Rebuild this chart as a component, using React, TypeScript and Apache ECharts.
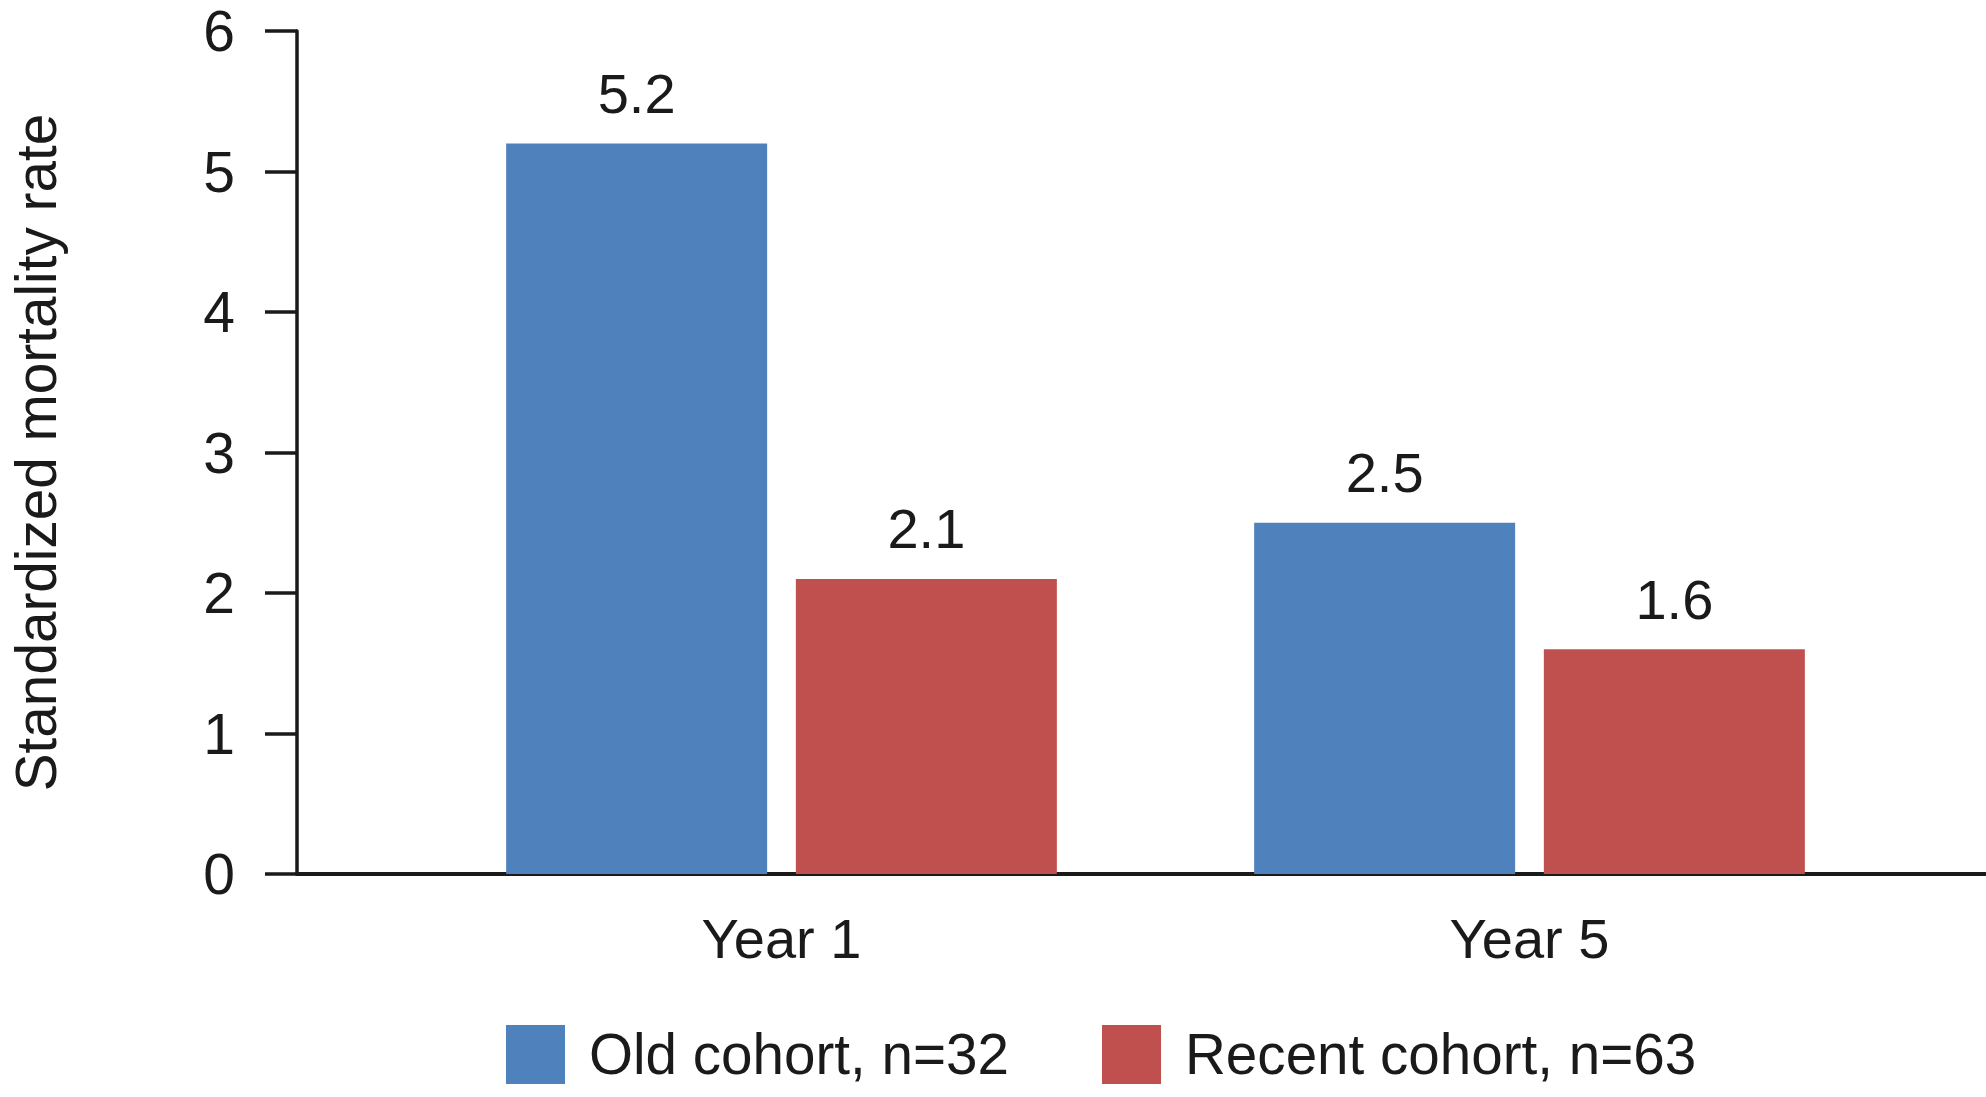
import React, { useEffect, useRef } from "react";
import * as echarts from "echarts";

const categories = ["Year 1", "Year 5"];
const seriesNames = ["Old cohort, n=32", "Recent cohort, n=63"];
const oldCohort = [5.2, 2.5];
const recentCohort = [2.1, 1.6];
const yTitle = "Standardized mortality rate";

const FONT = "'Liberation Sans', Arial, Helvetica, sans-serif";
const INK = "#1a1a1a";
const BLUE = "#4F81BD";
const RED = "#C0504D";

export default function App() {
  const ref = useRef<HTMLDivElement>(null);
  useEffect(() => {
    if (!ref.current) return;
    const chart = echarts.init(ref.current, undefined, { renderer: "svg" });
    const label = {
      show: true,
      position: "top",
      distance: 22,
      fontSize: 56,
      fontFamily: FONT,
      color: INK,
      formatter: (p: any) => Number(p.value).toFixed(1),
    };
    chart.setOption({
      animation: false,
      backgroundColor: "#ffffff",
      textStyle: { fontFamily: FONT, color: INK },
      grid: [
        { left: 293, right: 0, top: 31, bottom: 223 },
        { left: 407.5, right: 82.5, top: 31, bottom: 223 },
      ],
      xAxis: [
        {
          gridIndex: 0,
          type: "value",
          min: 0,
          max: 1,
          axisLine: { show: true, onZero: false, lineStyle: { color: INK, width: 4 } },
          axisTick: { show: false },
          axisLabel: { show: false },
          splitLine: { show: false },
        },
        {
          gridIndex: 1,
          type: "category",
          data: categories,
          axisLine: { show: false },
          axisTick: { show: false },
          axisLabel: { fontSize: 56, fontFamily: FONT, color: INK, margin: 36 },
          splitLine: { show: false },
        },
      ],
      yAxis: [
        {
          gridIndex: 0,
          type: "value",
          min: 0,
          max: 6,
          interval: 1,
          name: yTitle,
          nameLocation: "middle",
          nameRotate: 90,
          nameGap: 232,
          nameTextStyle: { fontSize: 56.7, fontFamily: FONT, color: INK },
          axisLine: { show: true, lineStyle: { color: INK, width: 3.5 } },
          axisTick: { show: true, inside: false, length: 32, lineStyle: { color: INK, width: 3.5 } },
          axisLabel: { fontSize: 57, fontFamily: FONT, color: INK, margin: 62 },
          splitLine: { show: false },
        },
        {
          gridIndex: 1,
          type: "value",
          min: 0,
          max: 6,
          interval: 1,
          show: false,
          splitLine: { show: false },
        },
      ],
      legend: {
        left: 501,
        top: 1020,
        itemWidth: 59,
        itemHeight: 59,
        itemGap: 93,
        icon: "rect",
        data: seriesNames,
        textStyle: { fontSize: 56.6, fontFamily: FONT, color: INK, padding: [0, 0, 0, 19], lineHeight: 59 },
      },
      series: [
        {
          name: seriesNames[0],
          type: "bar",
          xAxisIndex: 1,
          yAxisIndex: 1,
          data: oldCohort,
          barWidth: 261,
          barGap: "11%",
          itemStyle: { color: BLUE },
          label,
        },
        {
          name: seriesNames[1],
          type: "bar",
          xAxisIndex: 1,
          yAxisIndex: 1,
          data: recentCohort,
          barWidth: 261,
          barGap: "11%",
          itemStyle: { color: RED },
          label,
        },
      ],
    });
    return () => chart.dispose();
  }, []);
  return (
    <div
      ref={ref}
      style={{ position: "fixed", left: 0, top: 0, width: "1986px", height: "1097px", background: "#fff" }}
    />
  );
}
